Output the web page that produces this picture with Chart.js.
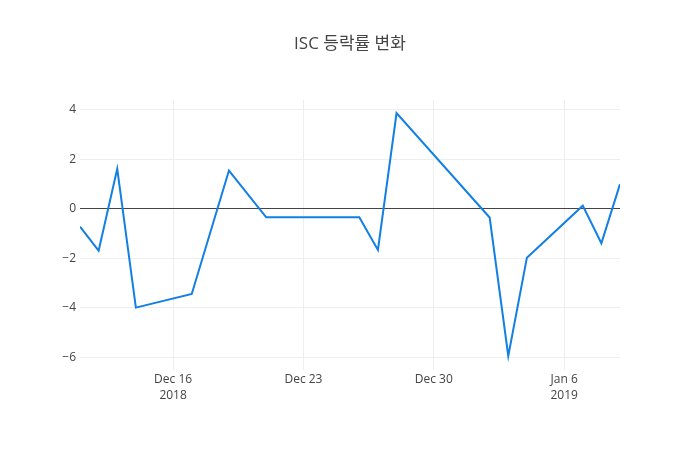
<!DOCTYPE html>
<html>
<head>
<meta charset="utf-8">
<script src="https://cdn.jsdelivr.net/npm/chart.js@4"></script>
<style>
  html, body { margin: 0; padding: 0; background: #fff; }
  #wrap { width: 700px; height: 450px; }
</style>
</head>
<body>
<div id="wrap"><canvas id="rateChart" width="700" height="450"></canvas></div>
<script>
// trading days and daily change (%)
const dates = ['2018-12-11', '2018-12-12', '2018-12-13', '2018-12-14', '2018-12-17',
               '2018-12-19', '2018-12-21', '2018-12-26', '2018-12-27', '2018-12-28',
               '2019-01-02', '2019-01-03', '2019-01-04', '2019-01-07', '2019-01-08',
               '2019-01-09'];
const rates = [-0.72, -1.69, 1.62, -3.99, -3.44,
               1.55, -0.34, -0.34, -1.66, 3.87,
               -0.35, -5.94, -1.97, 0.13, -1.39,
               1.0];
const xTickDates = ['2018-12-16', '2018-12-23', '2018-12-30', '2019-01-06'];
const xTickLabels = [['Dec 16', '2018'], ['Dec 23'], ['Dec 30'], ['Jan 6', '2019']];
const yTicks = [-6, -4, -2, 0, 2, 4];

const DAY = 86400000;
function toDay(s) {
    var p = s.split('-');
    return Date.UTC(+p[0], +p[1] - 1, +p[2]) / DAY;
}

var points = dates.map(function (d, i) { return { x: toDay(d), y: rates[i] }; });
var xTickVals = xTickDates.map(toDay);

var font = "'Open Sans', 'Noto Sans CJK KR', sans-serif";

var ctx = document.getElementById('rateChart').getContext('2d');
new Chart(ctx, {
    type: 'line',
    data: {
        datasets: [{
            data: points,
            borderColor: 'rgb(18,127,227)',
            borderWidth: 2,
            pointRadius: 0,
            tension: 0,
            fill: false
        }]
    },
    options: {
        responsive: false,
        animation: false,
        layout: { padding: 0 },
        plugins: {
            legend: { display: false },
            tooltip: { enabled: false },
            title: {
                display: true,
                text: 'ISC 등락률 변화',
                color: '#444',
                font: { family: font, size: 17, weight: 'normal', lineHeight: 1.2 },
                padding: { top: 34, bottom: 45.6 }
            }
        },
        scales: {
            x: {
                type: 'linear',
                min: toDay('2018-12-11'),
                max: toDay('2019-01-09'),
                afterBuildTicks: function (axis) {
                    axis.ticks = xTickVals.map(function (v) { return { value: v }; });
                },
                afterFit: function (axis) { axis.height = 80; },
                grid: { color: '#eeeeee', drawTicks: false },
                border: { display: false },
                ticks: {
                    color: '#444',
                    padding: 1,
                    maxRotation: 0,
                    autoSkip: false,
                    font: { family: font, size: 12, lineHeight: 1.35 },
                    callback: function (v) {
                        var i = xTickVals.indexOf(v);
                        return i >= 0 ? xTickLabels[i] : '';
                    }
                }
            },
            y: {
                min: -6.51,
                max: 4.40,
                afterBuildTicks: function (axis) {
                    axis.ticks = yTicks.map(function (v) { return { value: v }; });
                },
                afterFit: function (axis) { axis.width = 80; },
                grid: {
                    drawTicks: false,
                    color: function (c) { return c.tick && c.tick.value === 0 ? '#444' : '#eeeeee'; },
                    lineWidth: 1
                },
                border: { display: false },
                ticks: {
                    color: '#444',
                    padding: 4,
                    font: { family: font, size: 12 },
                    callback: function (v) { return v < 0 ? '\u2212' + Math.abs(v) : String(v); }
                }
            },
            // empty right-hand margin so the plot ends at 620px like the reference
            rightPad: {
                position: 'right',
                display: true,
                grid: { display: false, drawTicks: false },
                border: { display: false },
                ticks: { display: false },
                afterFit: function (axis) { axis.width = 80; }
            }
        }
    }
});
</script>
</body>
</html>
